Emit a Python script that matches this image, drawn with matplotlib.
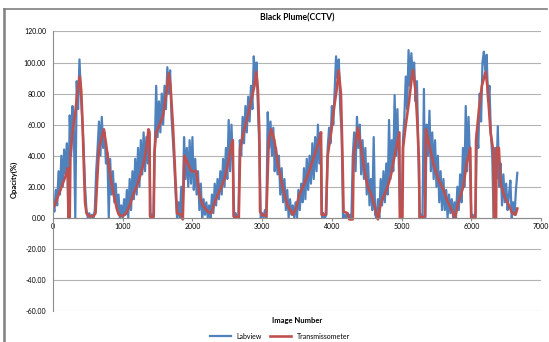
import numpy as np
import matplotlib
matplotlib.use("Agg")
import matplotlib.pyplot as plt
from matplotlib.lines import Line2D

plt.rcParams["font.family"] = ["Lato", "DejaVu Sans"]

# Labview opacity, one reading every 20 images
labview_step = 20
labview = [
    10, 4, 18, 8, 30, 15, 40, 20, 44, 28,
    48, 0, 66, 40, 72, 55, 0, 88, 70, 102,
    80, 62, 45, 20, 5, 0, 3, 0, 2, 0,
    5, 30, 45, 62, 40, 65, 45, 55, 35, 42,
    0, 38, 15, 30, 10, 22, 5, 15, 0, 8,
    0, 12, 2, 18, 0, 25, 5, 30, 12, 38,
    15, 45, 20, 50, 28, 55, 30, 52, 35, 50,
    0, 2, 0, 45, 85, 52, 75, 55, 80, 60,
    85, 70, 97, 80, 95, 65, 50, 35, 15, 0,
    10, 0, 20, 0, 52, 25, 45, 20, 50, 22,
    52, 18, 38, 15, 30, 5, 22, 0, 12, 2,
    10, 0, 8, 0, 15, 3, 22, 8, 25, 12,
    30, 15, 38, 20, 45, 25, 63, 30, 60, 35,
    0, 3, 0, 2, 50, 40, 65, 48, 72, 55,
    78, 62, 85, 70, 104, 88, 100, 70, 45, 0,
    3, 0, 5, 0, 68, 45, 62, 40, 58, 30,
    45, 28, 40, 15, 32, 10, 25, 5, 18, 0,
    12, 2, 8, 0, 10, 0, 18, 5, 22, 10,
    32, 12, 38, 18, 40, 22, 48, 25, 52, 30,
    60, 35, 55, 0, 3, 0, 2, 45, 58, 48,
    72, 60, 82, 104, 90, 102, 70, 55, 0, 2,
    0, 3, 0, 2, 0, 40, 55, 30, 65, 45,
    60, 28, 50, 25, 45, 15, 35, 8, 25, 5,
    52, 2, 0, 12, 0, 25, 8, 30, 10, 35,
    15, 63, 25, 50, 30, 79, 40, 70, 35, 0,
    0, 50, 65, 91, 70, 108, 85, 106, 90, 100,
    75, 88, 45, 0, 2, 0, 83, 0, 60, 40,
    69, 30, 55, 25, 50, 20, 40, 10, 30, 5,
    25, 5, 18, 0, 15, 3, 12, 0, 10, 0,
    20, 5, 28, 10, 45, 20, 72, 30, 65, 38,
    0, 2, 0, 3, 55, 45, 80, 62, 100, 107,
    95, 105, 75, 85, 55, 40, 0, 45, 25, 59,
    20, 35, 8, 28, 10, 22, 5, 15, 24, 0,
    10, 2, 18, 29,
]

# Transmissometer opacity (image number, value)
trans_x = [
    0, 40, 90, 140, 190, 215, 222, 240, 250, 280,
    320, 360, 385, 405, 425, 445, 460, 480, 520, 580,
    610, 635, 660, 700, 730, 760, 790, 825, 870, 920,
    945, 1000, 1050, 1100, 1150, 1200, 1250, 1300, 1340, 1370,
    1385, 1392, 1420, 1445, 1455, 1480, 1530, 1580, 1625, 1660,
    1685, 1720, 1760, 1779, 1840, 1862, 1885, 1935, 1985, 2055,
    2105, 2150, 2220, 2270, 2320, 2365, 2415, 2460, 2510, 2560,
    2580, 2590, 2665, 2685, 2745, 2795, 2840, 2890, 2915, 2940,
    2960, 2970, 2995, 3060, 3095, 3130, 3175, 3225, 3270, 3320,
    3365, 3415, 3440, 3485, 3535, 3605, 3675, 3750, 3820, 3845,
    3852, 3915, 3940, 3990, 4035, 4070, 4097, 4130, 4152, 4168,
    4225, 4250, 4300, 4312, 4373, 4420, 4470, 4515, 4565, 4610,
    4660, 4705, 4755, 4800, 4850, 4900, 4945, 4968, 4975, 5012,
    5021, 5060, 5107, 5145, 5164, 5200, 5225, 5250, 5258, 5336,
    5350, 5405, 5455, 5525, 5600, 5645, 5718, 5766, 5813, 5885,
    5933, 5985, 5998, 6060, 6068, 6110, 6152, 6204, 6230, 6276,
    6318, 6325, 6355, 6362, 6395, 6420, 6490, 6540, 6586, 6634,
    6660,
]
trans_y = [
    6, 10, 16, 22, 28, 32, 0, 0, 40, 55,
    68, 85, 91, 82, 60, 30, 10, 3, 1, 1,
    3, 25, 45, 52, 57, 48, 38, 26, 15, 5,
    2, 1, 3, 8, 15, 20, 27, 35, 45, 57,
    55, 1, 0, 1, 42, 55, 60, 66, 80, 93,
    85, 60, 22, 3, 2, -1, 40, 35, 30, 30,
    14, 8, 4, 3, 10, 15, 20, 25, 35, 47,
    50, 1, 0, 45, 57, 66, 75, 85, 94, 82,
    55, 4, 2, 1, 50, 57, 50, 35, 25, 15,
    8, 4, 2, 6, 15, 22, 30, 40, 50, 55,
    2, 2, 40, 55, 72, 83, 95, 80, 40, 4,
    3, -1, -1, 40, 58, 45, 30, 20, 15, 8,
    -1, 10, 15, 20, 28, 40, 50, 55, 0, 0,
    45, 60, 75, 90, 95, 82, 62, 35, 0, 1,
    57, 45, 35, 25, 18, 12, 5, 0, 10, 20,
    35, 45, 0, 0, 50, 70, 85, 94, 85, 55,
    42, 0, 0, 45, 45, 22, 12, 8, 3, 2,
    6,
]

x_ticks = [0, 1000, 2000, 3000, 4000, 5000, 6000, 7000]
y_ticks = [-60, -40, -20, 0, 20, 40, 60, 80, 100, 120]

labview_x = np.arange(len(labview)) * labview_step

fig = plt.figure(figsize=(5.49, 3.42), dpi=100)
ax = fig.add_axes([0.0965, 0.0906, 0.889, 0.8174])

ax.plot(labview_x, labview, color="#4F81BD", lw=1.6, label="Labview")
ax.plot(trans_x, trans_y, color="#C0504D", lw=1.9, label="Transmissometer")

ax.set_xlim(0, 7000)
ax.set_ylim(-60, 120)
ax.set_xticks(x_ticks)
ax.set_yticks(y_ticks)
ax.set_yticklabels(["%.2f" % v for v in y_ticks])
ax.grid(axis="y", color="#B3B3B3", lw=0.8)
ax.set_axisbelow(True)

for s in ["top", "right"]:
    ax.spines[s].set_visible(False)
ax.spines["bottom"].set_position(("data", 0))
ax.spines["bottom"].set_color("#8C8C8C")
ax.spines["left"].set_color("#8C8C8C")
ax.tick_params(axis="both", labelsize=5, length=2, color="#8C8C8C", pad=2)
ax.tick_params(axis="y", length=0, pad=5)

ax.set_title("Black Plume(CCTV)", fontsize=6.2, fontweight="bold", pad=8)
ax.set_ylabel("Opacity(%)", fontsize=5.5, fontweight="bold")
ax.yaxis.set_label_coords(-0.072, 0.47)
ax.set_xlabel("Image Number", fontsize=5.5, fontweight="bold")
ax.xaxis.set_label_coords(0.5, -0.02)

fig.legend(loc="center", bbox_to_anchor=(0.51, 0.017), ncol=2,
           fontsize=5, frameon=False, handlelength=3, columnspacing=1.2)

# chart area border
fig.add_artist(Line2D([4 / 549, 4 / 549], [1 - 9 / 342, 0], transform=fig.transFigure,
                      color="#808080", lw=1.8))
fig.add_artist(Line2D([4 / 549, 547 / 549], [1 - 9 / 342, 1 - 9 / 342], transform=fig.transFigure,
                      color="#808080", lw=1.2))

fig.savefig("out.png", dpi=100)
